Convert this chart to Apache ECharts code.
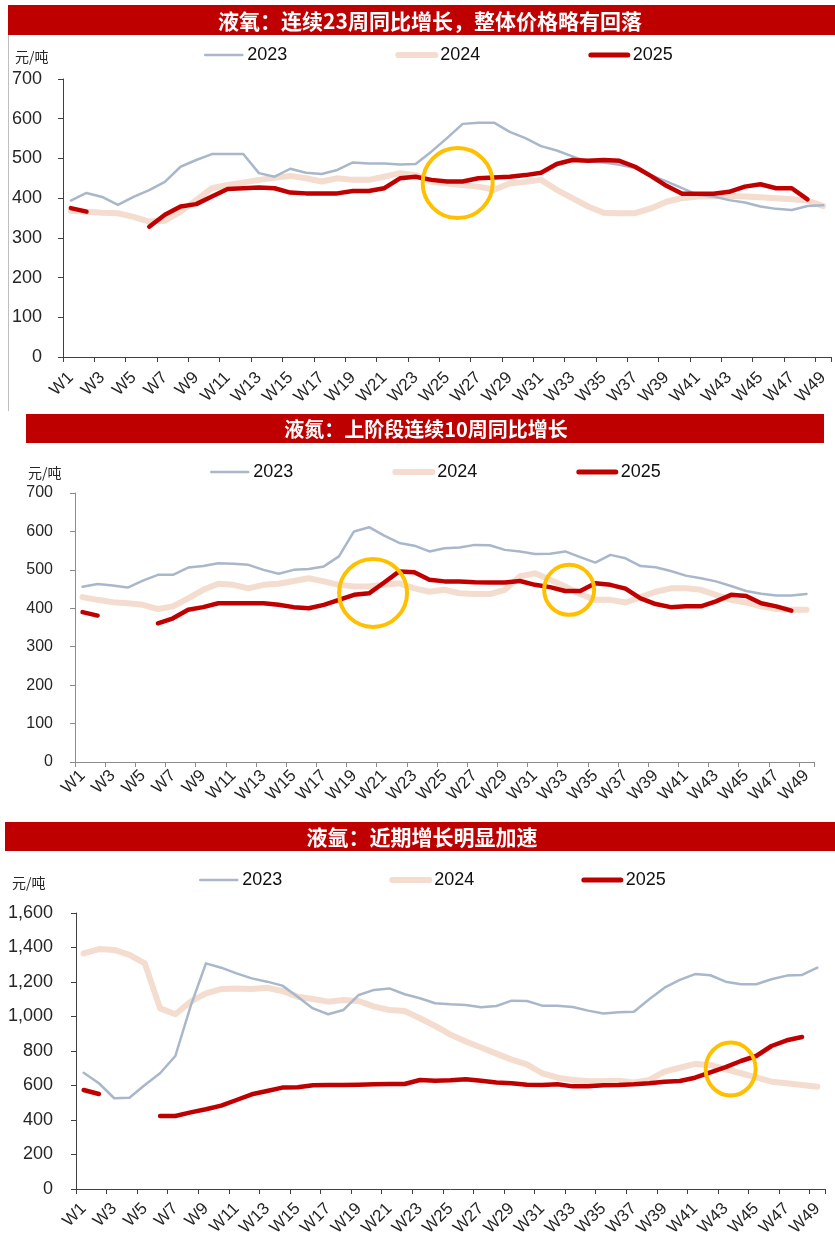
<!DOCTYPE html>
<html>
<head>
<meta charset="utf-8">
<script src="https://cdn.jsdelivr.net/npm/echarts@6/dist/echarts.min.js"></script>
<style>
  html, body { margin: 0; padding: 0; background: #fff; }
  #chart { width: 835px; height: 1242px; }
</style>
</head>
<body>
<div id="chart"></div>
<script>
// ---- data (元/吨, weekly) ----
const weeks = ['W1','W2','W3','W4','W5','W6','W7','W8','W9','W10','W11','W12','W13','W14','W15','W16','W17','W18','W19','W20',
  'W21','W22','W23','W24','W25','W26','W27','W28','W29','W30','W31','W32','W33','W34','W35','W36','W37','W38','W39','W40',
  'W41','W42','W43','W44','W45','W46','W47','W48','W49'];
const years = ['2023', '2024', '2025'];

// 液氧
const oxygen2023 = [394,413,403,383,403,420,441,479,496,511,511,511,463,454,474,464,461,471,490,487,
  487,485,486,517,551,587,590,590,567,551,531,520,505,492,490,484,476,458,442,425,408,404,395,389,379,373,370,380,382];
const oxygen2024 = [368,366,363,362,353,341,343,366,395,425,433,439,446,451,456,450,442,450,446,446,
  454,463,458,441,437,433,429,421,437,441,446,421,400,379,363,362,362,374,391,400,404,405,406,404,402,400,397,394,380];
const oxygen2025 = [375,366,null,null,null,328,358,379,385,404,423,425,427,425,414,412,412,412,418,418,
  425,450,454,446,442,442,450,452,454,458,464,486,496,494,496,494,479,456,431,411,411,411,416,429,435,425,425,397,null];

// 液氮
const nitrogen2023 = [456,463,459,454,472,487,487,506,510,517,516,513,500,490,500,502,509,535,600,611,
  589,570,563,548,556,558,565,564,552,548,541,542,548,533,519,539,530,510,507,497,485,478,470,458,445,438,433,433,437];
const nitrogen2024 = [429,422,416,413,409,398,405,426,448,464,461,452,461,464,471,478,470,461,457,457,
  461,465,452,443,448,439,437,437,448,483,491,474,457,437,422,422,415,429,443,452,452,448,435,422,415,405,398,396,396];
const nitrogen2025 = [390,381,null,null,null,361,374,396,403,413,413,413,413,409,403,400,409,422,435,439,
  467,496,494,474,470,470,468,467,467,471,461,455,445,445,465,461,451,426,411,403,405,405,418,435,432,413,405,394,null];

// 液氩
const argon2023 = [674,613,526,529,603,671,771,1060,1308,1283,1250,1221,1202,1179,1115,1047,1013,1038,1125,1154,
  1163,1129,1106,1077,1071,1067,1053,1061,1092,1090,1063,1063,1055,1034,1017,1024,1028,1100,1167,1212,1246,1239,1202,1187,1187,1216,1237,1241,1283];
const argon2024 = [1366,1391,1386,1357,1308,1047,1013,1086,1134,1159,1163,1159,1167,1148,1115,1101,1086,1096,1090,1057,
  1038,1032,990,945,895,855,820,785,750,722,671,645,632,626,624,628,618,632,680,703,725,719,694,671,647,622,613,603,593];
const argon2025 = [574,551,null,null,null,423,423,444,462,483,516,549,568,588,590,601,603,603,605,607,
  609,609,632,628,630,636,628,618,613,605,603,607,595,595,601,603,607,613,622,626,645,676,707,742,771,829,862,881,null];

// ---- layout of the three panels ----
const panels = [
  {
    title: '液氧：连续23周同比增长，整体价格略有回落', titleSize: 21,
    bar: { x: 8, y: 5, w: 827, h: 30 }, titleX: 430,
    grid: { left: 63, right: 4, top: 79, bottom: 885 },
    max: 700, interval: 100, axisColor: '#404040', yFont: 18, yMargin: 21, xMargin: 18,
    legend: { left: 204, top: 46, gap: 108 },
    unit: { x: 15, y: 57 },
    data: [oxygen2023, oxygen2024, oxygen2025],
    circles: [{ coord: ['W26', 438], size: 70, offset: [-5, 0] }]
  },
  {
    title: '液氮：上阶段连续10周同比增长', titleSize: 20,
    bar: { x: 26, y: 414, w: 798, h: 29 }, titleX: 426,
    grid: { left: 75, right: 21, top: 493, bottom: 480 },
    max: 700, interval: 100, axisColor: '#8c8c8c', yFont: 16, yMargin: 22, xMargin: 11,
    legend: { left: 210, top: 463, gap: 99 },
    unit: { x: 28, y: 473 },
    data: [nitrogen2023, nitrogen2024, nitrogen2025],
    circles: [
      { coord: ['W20', 440], size: 68, offset: [4, 0] },
      { coord: ['W33', 448], size: 50, offset: [4, 0] }
    ]
  },
  {
    title: '液氩：近期增长明显加速', titleSize: 21,
    bar: { x: 5, y: 822, w: 830, h: 29 }, titleX: 422,
    grid: { left: 76, right: 10, top: 913, bottom: 53 },
    max: 1600, interval: 200, axisColor: '#404040', yFont: 18, yMargin: 23, xMargin: 17,
    legend: { left: 199, top: 871, gap: 107 },
    unit: { x: 12, y: 883 },
    data: [argon2023, argon2024, argon2025],
    circles: [{ coord: ['W43', 696], size: [50, 53], offset: [5, 0] }]
  }
];

const lineStyles = [
  { color: '#A9B7CB', width: 2.5, z: 3 },
  { color: '#F4DCCF', width: 6, z: 2 },
  { color: '#C00000', width: 4.5, z: 4 }
];
const legendWidths = [2.5, 6, 5];
const FONT = '"Liberation Sans", Arial, sans-serif';
const CJK = '"Noto Sans CJK SC", sans-serif';

const series = [];
panels.forEach(function (p, i) {
  years.forEach(function (y, k) {
    const s = {
      name: y,
      type: 'line',
      xAxisIndex: i,
      yAxisIndex: i,
      data: p.data[k],
      symbol: 'none',
      showSymbol: false,
      connectNulls: false,
      z: lineStyles[k].z,
      color: lineStyles[k].color,
      lineStyle: { color: lineStyles[k].color, width: lineStyles[k].width, cap: 'round', join: 'round' },
      emphasis: { disabled: true }
    };
    if (k === 2) {
      // yellow highlight rings
      s.markPoint = {
        symbol: 'circle',
        silent: true,
        label: { show: false },
        itemStyle: { color: 'rgba(0,0,0,0)', borderColor: '#FFC000', borderWidth: 4 },
        data: p.circles.map(function (c) {
          return { coord: c.coord, symbolSize: c.size, symbolOffset: c.offset };
        })
      };
    }
    series.push(s);
  });
});

const graphics = [
  { type: 'line', shape: { x1: 8.5, y1: 35, x2: 8.5, y2: 411 }, style: { stroke: '#bfbfbf', lineWidth: 1 } }
];
panels.forEach(function (p) {
  graphics.push({ type: 'rect', shape: { x: p.bar.x, y: p.bar.y, width: p.bar.w, height: p.bar.h }, style: { fill: '#BE0000' } });
  graphics.push({ type: 'text', x: p.titleX, y: p.bar.y + p.bar.h / 2 + 1,
    style: { text: p.title, fill: '#fff', font: 'bold ' + p.titleSize + 'px ' + CJK, align: 'center', verticalAlign: 'middle' } });
  graphics.push({ type: 'text', x: p.unit.x, y: p.unit.y,
    style: { text: '元/吨', fill: '#262626', font: '14px ' + CJK, verticalAlign: 'middle' } });
});

const option = {
  animation: false,
  backgroundColor: '#fff',
  grid: panels.map(function (p) {
    return Object.assign({ containLabel: false, outerBoundsMode: 'none' }, p.grid);
  }),
  xAxis: panels.map(function (p, i) {
    return {
      type: 'category', gridIndex: i, data: weeks, boundaryGap: true,
      axisLine: { show: true, lineStyle: { color: p.axisColor, width: 1 } },
      axisTick: { show: true, length: 5, lineStyle: { color: p.axisColor } },
      axisLabel: { interval: 1, rotate: 45, fontSize: 17, fontFamily: FONT, color: '#262626', margin: p.xMargin },
      splitLine: { show: false }
    };
  }),
  yAxis: panels.map(function (p, i) {
    return {
      type: 'value', gridIndex: i, min: 0, max: p.max, interval: p.interval,
      axisLine: { show: true, lineStyle: { color: p.axisColor, width: 1 } },
      axisTick: { show: true, length: 5, lineStyle: { color: p.axisColor } },
      axisLabel: { fontSize: p.yFont, fontFamily: FONT, color: '#262626', margin: p.yMargin,
        formatter: function (v) { return v.toLocaleString('en-US'); } },
      splitLine: { show: false }
    };
  }),
  legend: panels.map(function (p) {
    return {
      data: years.map(function (y, k) {
        return { name: y, lineStyle: { width: legendWidths[k], cap: 'round' } };
      }),
      left: p.legend.left, top: p.legend.top, itemGap: p.legend.gap,
      itemWidth: 37, itemHeight: 14, padding: 0, selectedMode: false,
      itemStyle: { opacity: 0 },
      textStyle: { fontSize: 18, color: '#111', fontFamily: FONT }
    };
  }),
  series: series,
  graphic: graphics
};

const chart = echarts.init(document.getElementById('chart'));
chart.setOption(option);
</script>
</body>
</html>
